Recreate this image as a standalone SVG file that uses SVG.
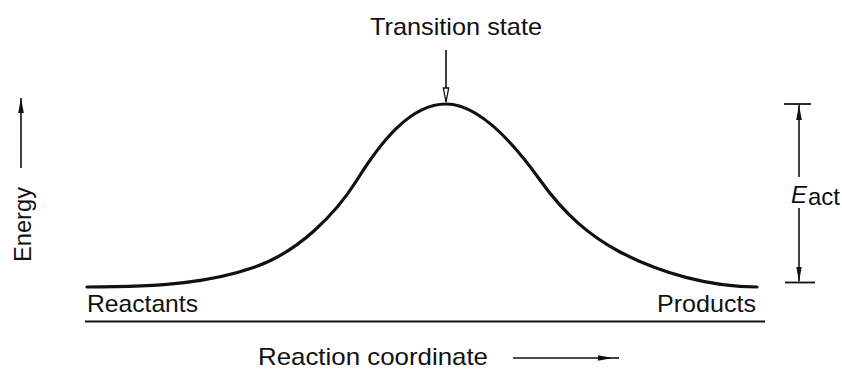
<svg xmlns="http://www.w3.org/2000/svg" width="842" height="370" viewBox="0 0 842 370">
<style>
text{font-family:"Liberation Sans",Arial,sans-serif;font-size:24px;fill:#111}
.curve{fill:none;stroke:#111;stroke-width:3.2;stroke-linecap:round}
.base{fill:none;stroke:#111;stroke-width:2}
.ar{fill:none;stroke:#111;stroke-width:1.6}
.tick{fill:none;stroke:#111;stroke-width:1.8}
</style>
<defs>
<marker id="head" viewBox="0 0 16 8" refX="15" refY="4" markerWidth="16" markerHeight="8" markerUnits="userSpaceOnUse" orient="auto">
<path d="M0,1.2 L15,4 L0,6.8 Z" fill="#111"/>
</marker>
<marker id="openhead" viewBox="0 0 16 8" refX="15" refY="4" markerWidth="16" markerHeight="8" markerUnits="userSpaceOnUse" orient="auto">
<path d="M1,1.3 L15,4 L1,6.7 Z" fill="#fff" stroke="#111" stroke-width="1.3"/>
</marker>
</defs>
<g id="energy-curve">
<path class="curve" d="M87,287 C165,287 212,282 255,267 C298,252 335,215 357,180 C380,143 410,104 446,104 C480,104 515,145 540,180 C565,215 590,236 620,252 C660,273 710,287 757,287"/>
</g>
<g id="baseline">
<line class="base" x1="85" y1="321.5" x2="765" y2="321.5"/>
</g>
<g id="transition-state">
<text x="456" y="35" text-anchor="middle" textLength="172" lengthAdjust="spacingAndGlyphs">Transition state</text>
</g>
<g id="reactants">
<text x="87" y="312" textLength="111" lengthAdjust="spacingAndGlyphs">Reactants</text>
</g>
<g id="products">
<text x="657" y="312" textLength="99" lengthAdjust="spacingAndGlyphs">Products</text>
</g>
<g id="energy-axis">
<text transform="translate(31,224.5) rotate(-90)" text-anchor="middle" textLength="75" lengthAdjust="spacingAndGlyphs">Energy</text>
</g>
<g id="reaction-coordinate">
<text x="258" y="365" textLength="230" lengthAdjust="spacingAndGlyphs">Reaction coordinate</text>
</g>
<g id="eact">
<line class="tick" x1="784" y1="104" x2="811" y2="104"/>
<line class="tick" x1="785" y1="282.5" x2="815" y2="282.5"/>
<text x="791" y="203" font-style="italic" font-size="24px">E</text>
<text x="808" y="205" font-size="20px">act</text>
</g>
<g id="connectors">
<line class="ar" x1="446" y1="50" x2="446" y2="102" marker-end="url(#openhead)"/>
<line class="ar" x1="21" y1="168" x2="21" y2="98" marker-end="url(#head)"/>
<line class="ar" x1="513" y1="358" x2="613" y2="358" marker-end="url(#head)"/>
<line class="ar" x1="613" y1="358" x2="619" y2="358"/>
<line class="ar" x1="799" y1="177" x2="799" y2="105" marker-end="url(#head)"/>
<line class="ar" x1="799" y1="208" x2="799" y2="281.5" marker-end="url(#head)"/>
</g>
</svg>
